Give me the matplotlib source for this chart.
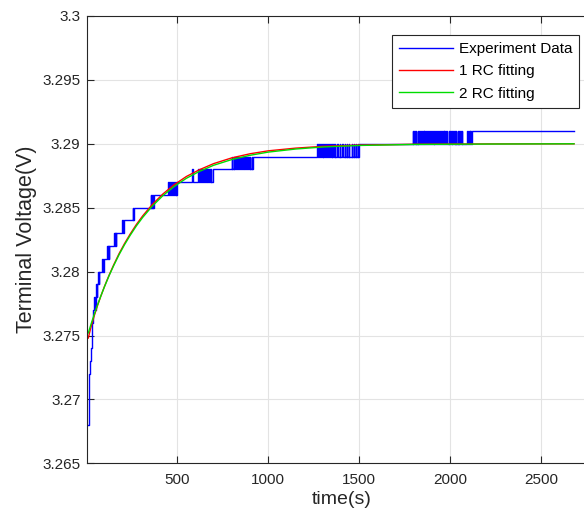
import numpy as np
import matplotlib
matplotlib.use('Agg')
import matplotlib.pyplot as plt

plt.rcParams['font.family'] = ['Liberation Sans', 'DejaVu Sans']

# Experiment data: base levels (V) with the time (s) they start at
step_t = [12, 14, 16, 20, 24, 29, 33, 37, 53, 64, 75, 99, 126, 163, 209, 264,
          372, 500, 694, 918, 1496, 2119, 2680]
step_v = [3.268, 3.270, 3.272, 3.273, 3.274, 3.275, 3.276, 3.277, 3.278, 3.279,
          3.280, 3.281, 3.282, 3.283, 3.284, 3.285, 3.286, 3.287, 3.288, 3.289,
          3.290, 3.291, 3.291]

# chatter between a level and the next mV up (toggle times, first one goes up)
chatter_lo = [3.277, 3.278, 3.279, 3.280, 3.281, 3.282, 3.283, 3.284,
              3.285, 3.286, 3.287, 3.287, 3.288, 3.289, 3.290]
chatter_t = [
    [45, 48, 51, 53],
    [56, 59, 61, 64],
    [67, 70, 72, 75],
    [89, 92, 95, 97, 99],
    [116, 119, 122, 124, 126],
    [153, 156, 159, 161, 163],
    [199, 202, 205, 207, 209],
    [254, 257, 260, 262, 264],
    [354, 357, 360, 363, 366, 369, 372],
    [451, 456, 461, 466, 471, 476, 481, 486, 493, 495, 500],
    [583, 586],
    [616, 621, 626, 631, 636, 641, 646, 651, 656, 661, 666, 671,
     677, 679, 686, 688, 694],
    [800, 802, 809, 814, 819, 824, 829, 834, 839, 844, 849, 854, 859, 864,
     869, 874, 879, 884, 891, 893, 899, 901, 908, 910, 918],
    [1268, 1273, 1278, 1283, 1288, 1293, 1298, 1303, 1308, 1313, 1318, 1323,
     1328, 1333, 1338, 1343, 1350, 1352, 1357, 1359, 1367, 1369, 1379, 1381,
     1394, 1396, 1407, 1409, 1422, 1424, 1431, 1433, 1444, 1446, 1458, 1460,
     1471, 1473, 1482, 1484, 1491, 1493, 1496],
    [1794, 1796, 1803, 1805, 1812, 1814, 1821, 1823, 1830, 1832,
     1838, 1843, 1848, 1853, 1858, 1863, 1868, 1873, 1878, 1883, 1888, 1893,
     1898, 1903, 1908, 1913, 1918, 1923, 1928, 1933, 1938, 1943, 1948, 1953,
     1958, 1963, 1968, 1973, 1978, 1983,
     1992, 1994, 2000, 2002, 2008, 2010, 2016, 2018, 2024, 2026, 2031, 2033,
     2040, 2042, 2048, 2050, 2056, 2058, 2062, 2064,
     2094, 2098, 2102, 2106, 2110, 2114, 2119],
]
# odd toggle counts end on the upper level, the spike at 583 goes back down
chatter_t = [ts if (len(ts) % 2 == 1 or ts[0] == 583) else ts + [ts[-1]] for ts in chatter_t]

# fitted curves
fit_t = [11, 20, 30, 45, 60, 80, 100, 125, 150, 180, 210, 240, 275, 310, 360,
         420, 480, 550, 620, 700, 800, 900, 1000, 1150, 1300, 1500, 1800, 2200, 2680]
rc1_v = [3.2748, 3.27533, 3.27587, 3.2766, 3.27727, 3.27808, 3.27884, 3.27971,
         3.28051, 3.2814, 3.28219, 3.28291, 3.28368, 3.28436, 3.28521, 3.28606,
         3.28677, 3.28744, 3.28796, 3.28845, 3.2889, 3.28922, 3.28945, 3.28966,
         3.2898, 3.2899, 3.28996, 3.28999, 3.29]
rc2_v = [3.2752, 3.27561, 3.27606, 3.2767, 3.27732, 3.27809, 3.27882, 3.27967,
         3.28045, 3.28132, 3.2821, 3.28281, 3.28357, 3.28424, 3.28508, 3.28593,
         3.28663, 3.2873, 3.28783, 3.28832, 3.28877, 3.2891, 3.28935, 3.28959,
         3.28975, 3.28987, 3.28995, 3.28998, 3.29]

y_ticks = [3.265, 3.27, 3.275, 3.28, 3.285, 3.29, 3.295, 3.3]
y_labels = ['3.265', '3.27', '3.275', '3.28', '3.285', '3.29', '3.295', '3.3']
x_ticks = [500, 1000, 1500, 2000, 2500]

# merge the levels and the chatter into one step series
events = dict(zip(step_t, step_v))
for lo, ts in zip(chatter_lo, chatter_t):
    for i, t in enumerate(ts):
        events[t] = lo + 0.001 if i % 2 == 0 else lo
    # the block ends on the level given by the base steps
    if ts[-1] in step_t:
        events[ts[-1]] = step_v[step_t.index(ts[-1])]
exp_t = np.array(sorted(events))
exp_v = np.array([events[t] for t in exp_t])

fig = plt.figure(figsize=(5.84, 5.19), dpi=100)
ax = fig.add_axes([0.1498, 0.1073, 0.8705, 0.8619])

ax.plot(exp_t, exp_v, color='#0000ff', lw=1.0, drawstyle='steps-post',
        label='Experiment Data')
ax.plot(fit_t, rc1_v, color='#ff0000', lw=1.0, label='1 RC fitting')
ax.plot(fit_t, rc2_v, color='#00dd00', lw=1.0, label='2 RC fitting')

ax.set_xlim(6.6, 2800)
ax.set_ylim(3.265, 3.3)
ax.set_xticks(x_ticks)
ax.set_yticks(y_ticks)
ax.set_yticklabels(y_labels)
ax.grid(True, color='#e3e3e3', lw=0.8)
ax.set_axisbelow(True)
for s in ax.spines.values():
    s.set_color('#262626')
    s.set_linewidth(0.8)
ax.tick_params(direction='in', top=True, right=True, length=5, width=0.8,
               labelsize=11, colors='#262626')
ax.tick_params(axis='x', pad=7)
ax.tick_params(axis='y', pad=5)

ax.set_xlabel('time(s)', fontsize=14, color='#262626', labelpad=3)
ax.set_ylabel('Terminal Voltage(V)', fontsize=15.5, color='#262626', labelpad=4)

leg = ax.legend(loc='upper right', bbox_to_anchor=(579 / 584, 1 - 35 / 519),
                bbox_transform=fig.transFigure, borderaxespad=0, fontsize=11,
                fancybox=False, framealpha=1, edgecolor='#262626',
                handlelength=3.5, handletextpad=0.4, labelspacing=0.55,
                borderpad=0.45)
leg.get_frame().set_linewidth(0.8)

plt.savefig('out.png', dpi=100)
